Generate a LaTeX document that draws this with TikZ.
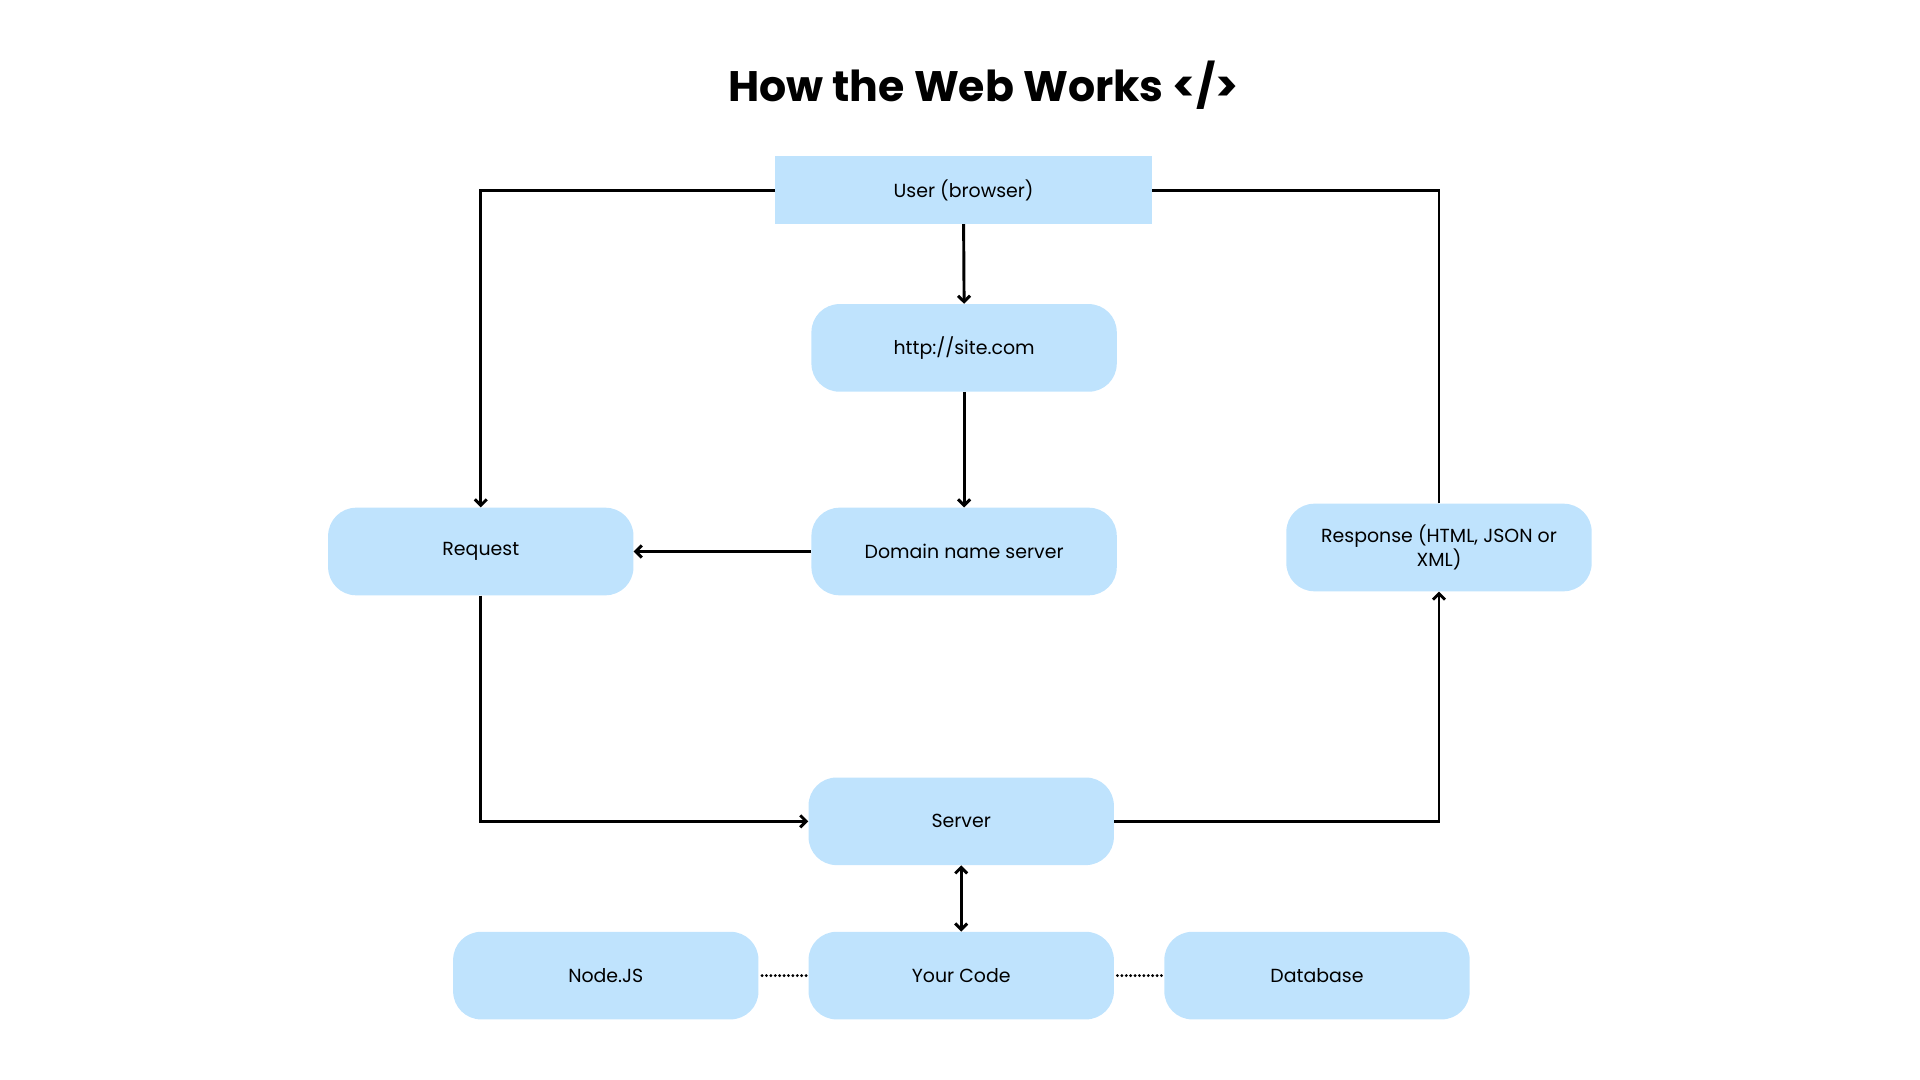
\documentclass[tikz,border=0pt]{standalone}
\usepackage{fontspec}
\setmainfont{Poppins}
\usetikzlibrary{arrows.meta}
\definecolor{boxblue}{RGB}{191,227,253}

\begin{document}
\begin{tikzpicture}[x=0.75pt, y=-0.75pt,
    box/.style={fill=boxblue, rounded corners=21pt, minimum width=229pt, minimum height=65.7pt,
        align=center, font=\fontsize{14.2}{18}\selectfont},
    userbox/.style={fill=boxblue, minimum width=282.2pt, minimum height=50.8pt, font=\fontsize{14.2}{18}\selectfont},
    link/.style={line width=2.2pt, -{Straight Barb[length=4.5pt, width=9pt]}},
    twoway/.style={line width=2.2pt, {Straight Barb[length=4.5pt, width=9pt]}-{Straight Barb[length=4.5pt, width=9pt]}},
    plainlink/.style={line width=2.2pt},
    dotlink/.style={line width=2.4pt, line cap=round, dash pattern=on 0pt off 3.3pt}]
    % Page size
    \useasboundingbox (0,0) rectangle (1920,1080);

    % Title
    \node[font=\fontsize{32}{40}\selectfont\bfseries] (title) at (983.5,85.6) {How the Web Works </>};

    % Boxes
    \node[userbox] (user) at (963.6,190.1) {User (browser)};
    \node[box] (site) at (964.1,347.9) {http://site.com};
    \node[box] (dns) at (964.1,551.5) {Domain name server};
    \node[box] (request) at (480.8,551.5) {Request};
    \node[box] (response) at (1439,547.5) {Response (HTML, JSON or\\XML)};
    \node[box] (server) at (961.2,821.3) {Server};
    \node[box] (code) at (961.2,975.6) {Your Code};
    \node[box] (nodejs) at (605.8,975.6) {Node.JS};
    \node[box] (database) at (1317,975.6) {Database};

    % Request side
    \draw[link] (user.west) -| (request.north);
    \draw[link] (user.south) -- (site.north);
    \draw[link] (site.south) -- (dns.north);
    \draw[link] (dns.west) -- (request.east);
    \draw[link] (request.south) |- (server.west);

    % Response side
    \draw[link] (server.east) -| (response.south);
    \draw[plainlink] (response.north) |- (user.east);

    % Server and code
    \draw[twoway] (server.south) -- (code.north);
    \draw[dotlink] ([xshift=2.5pt]nodejs.east) -- ([xshift=-1.5pt]code.west);
    \draw[dotlink] ([xshift=2.5pt]code.east) -- ([xshift=-1.5pt]database.west);
\end{tikzpicture}
\end{document}
